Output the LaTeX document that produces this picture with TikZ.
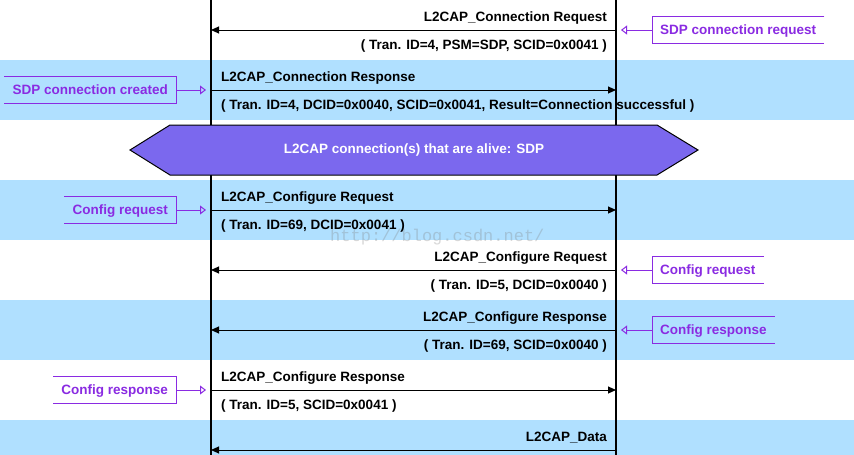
\documentclass[tikz,border=0pt]{standalone}
\usepackage{fontspec}
\setmainfont{Liberation Sans}
\newfontfamily\markfont{Liberation Mono}
\usepackage{tikz}
\usetikzlibrary{positioning,arrows.meta}
\usepackage{xcolor}
\definecolor{band}{RGB}{176,224,255}
\definecolor{notecol}{RGB}{138,43,226}
\definecolor{alivecol}{RGB}{123,104,238}

\begin{document}
\begin{tikzpicture}[
x=1pt,
y=-1pt,
font=\fontsize{13.5}{16}\selectfont\bfseries,
lifeline/.style={line width=2pt},
msg/.style={-{Triangle[length=8pt,width=7pt]}, line width=1pt},
msgtext/.style={inner sep=0pt},
note/.style={
text=notecol,
inner xsep=8pt,
inner ysep=0pt,
minimum height=26pt,
text height=11pt,
text depth=2pt
},
notebox/.style={draw=notecol, line width=1pt},
noteline/.style={-{Triangle[open,length=6pt,width=9pt]}, draw=notecol, line width=1pt, shorten >=5pt},
alive/.style={fill=alivecol, draw=black, line width=1pt}
]

% frame and bands
\fill[white] (0,0) rectangle (854,455);
\useasboundingbox (0,0) rectangle (854,455);
\fill[band] (0,60) rectangle (854,120);
\fill[band] (0,180) rectangle (854,240);
\fill[band] (0,300) rectangle (854,360);
\fill[band] (0,420) rectangle (854,455);

% lifelines
\coordinate (Atop) at (211,0);
\coordinate (Abot) at (211,455);
\coordinate (Btop) at (616,0);
\coordinate (Bbot) at (616,455);
\draw[lifeline] (Atop) -- (Abot);
\draw[lifeline] (Btop) -- (Bbot);

% message points
\coordinate (A1) at (211,30);  \coordinate (B1) at (616,30);
\coordinate (A2) at (211,90);  \coordinate (B2) at (616,90);
\coordinate (A4) at (211,210); \coordinate (B4) at (616,210);
\coordinate (A5) at (211,270); \coordinate (B5) at (616,270);
\coordinate (A6) at (211,330); \coordinate (B6) at (616,330);
\coordinate (A7) at (211,390); \coordinate (B7) at (616,390);
\coordinate (A8) at (211,450); \coordinate (B8) at (616,450);

% alive banner
\draw[alive] (130,150) -- (170,125) -- (657,125) -- (698,150) -- (657,175) -- (170,175) -- cycle;
\node[text=white] (alivetext) at (414,150) {L2CAP connection(s) that are alive: SDP};

% watermark
\node[anchor=base west, inner sep=0pt, text=gray, opacity=0.3, font=\markfont\fontsize{17}{17}\selectfont] (mark) at (330,241) {http://blog.csdn.net/};

% messages
\draw[msg] (B1) -- (A1);
\draw[msg] (A2) -- (B2);
\draw[msg] (A4) -- (B4);
\draw[msg] (B5) -- (A5);
\draw[msg] (B6) -- (A6);
\draw[msg] (A7) -- (B7);
\draw[msg] (B8) -- (A8);

\node[msgtext, anchor=base east] (m1a) at (607,21) {L2CAP\_Connection Request};
\node[msgtext, anchor=base east] (m1b) at (607,49) {( Tran. ID=4, PSM=SDP, SCID=0x0041 )};
\node[msgtext, anchor=base west] (m2a) at (221,81) {L2CAP\_Connection Response};
\node[msgtext, anchor=base west] (m2b) at (221,109) {( Tran. ID=4, DCID=0x0040, SCID=0x0041, Result=Connection successful )};
\node[msgtext, anchor=base west] (m4a) at (221,201) {L2CAP\_Configure Request};
\node[msgtext, anchor=base west] (m4b) at (221,229) {( Tran. ID=69, DCID=0x0041 )};
\node[msgtext, anchor=base east] (m5a) at (607,261) {L2CAP\_Configure Request};
\node[msgtext, anchor=base east] (m5b) at (607,289) {( Tran. ID=5, DCID=0x0040 )};
\node[msgtext, anchor=base east] (m6a) at (607,321) {L2CAP\_Configure Response};
\node[msgtext, anchor=base east] (m6b) at (607,349) {( Tran. ID=69, SCID=0x0040 )};
\node[msgtext, anchor=base west] (m7a) at (221,381) {L2CAP\_Configure Response};
\node[msgtext, anchor=base west] (m7b) at (221,409) {( Tran. ID=5, SCID=0x0041 )};
\node[msgtext, anchor=base east] (m8a) at (607,441) {L2CAP\_Data};

% notes
\node[note, right=36pt of B1] (n1) {SDP connection request};
\draw[notebox] (n1.north east) -- (n1.north west) -- (n1.south west) -- (n1.south east);
\draw[noteline] (n1.west) -- (B1);

\node[note, left=35pt of A2] (n2) {SDP connection created};
\draw[notebox] (n2.north west) -- (n2.north east) -- (n2.south east) -- (n2.south west);
\draw[noteline] (n2.east) -- (A2);

\node[note, left=35pt of A4] (n4) {Config request};
\draw[notebox] (n4.north west) -- (n4.north east) -- (n4.south east) -- (n4.south west);
\draw[noteline] (n4.east) -- (A4);

\node[note, right=36pt of B5] (n5) {Config request};
\draw[notebox] (n5.north east) -- (n5.north west) -- (n5.south west) -- (n5.south east);
\draw[noteline] (n5.west) -- (B5);

\node[note, right=36pt of B6] (n6) {Config response};
\draw[notebox] (n6.north east) -- (n6.north west) -- (n6.south west) -- (n6.south east);
\draw[noteline] (n6.west) -- (B6);

\node[note, left=35pt of A7] (n7) {Config response};
\draw[notebox] (n7.north west) -- (n7.north east) -- (n7.south east) -- (n7.south west);
\draw[noteline] (n7.east) -- (A7);

\end{tikzpicture}
\end{document}
